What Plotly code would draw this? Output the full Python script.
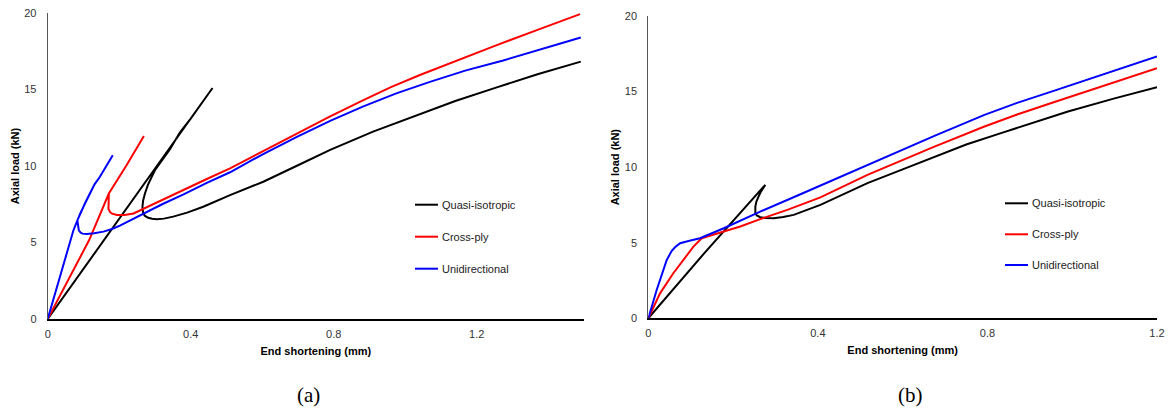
import plotly.graph_objects as go

W, H = 1170, 409

# ---- (a) load vs end shortening ----
a_qi_x = [0, 0.202, 0.461, 0.40, 0.37, 0.342, 0.314, 0.300, 0.291, 0.280, 0.272, 0.267, 0.265,
          0.265, 0.267, 0.272, 0.281, 0.292, 0.305, 0.325, 0.351, 0.390, 0.435,
          0.510, 0.603, 0.700, 0.790, 0.910, 1.032, 1.140, 1.256, 1.370, 1.491]
a_qi_y = [0, 6.6, 15.1, 13.1, 12.2, 11.1, 10.18, 9.72, 9.3, 8.75, 8.2, 7.75, 7.34,
          7.1, 6.9, 6.74, 6.62, 6.55, 6.52, 6.56, 6.69, 6.95, 7.34,
          8.1, 8.97, 10.05, 11.05, 12.25, 13.33, 14.25, 15.14, 16.0, 16.82]

a_cp_x = [0, 0.116, 0.171, 0.221, 0.269, 0.221, 0.171, 0.1695, 0.170, 0.174, 0.179, 0.193,
          0.215, 0.240, 0.267, 0.32, 0.38, 0.445,
          0.510, 0.600, 0.697, 0.790, 0.883, 0.960, 1.041, 1.150, 1.256, 1.370, 1.489]
a_cp_y = [0, 5.16, 8.2, 10.07, 11.96, 10.07, 8.2, 7.6, 7.2, 7.0, 6.9, 6.8,
          6.8, 6.9, 7.2, 7.8, 8.45, 9.15,
          9.85, 10.95, 12.14, 13.25, 14.31, 15.15, 15.95, 16.95, 17.9, 18.9, 19.93]

a_ud_x = [0, 0.034, 0.072, 0.083, 0.092, 0.105, 0.118, 0.131, 0.146, 0.163, 0.182, 0.163,
          0.146, 0.131, 0.118, 0.105, 0.092, 0.083, 0.0845, 0.087, 0.092, 0.097, 0.109,
          0.130, 0.156, 0.180, 0.202, 0.235, 0.267, 0.32, 0.38, 0.445, 0.510, 0.600,
          0.697, 0.790, 0.883, 0.975, 1.069, 1.170, 1.274, 1.380, 1.491]
a_ud_y = [0, 2.77, 5.8, 6.45, 6.95, 7.6, 8.2, 8.8, 9.3, 10.0, 10.7, 10.0,
          9.3, 8.8, 8.2, 7.6, 6.95, 6.45, 6.1, 5.8, 5.65, 5.58, 5.56,
          5.6, 5.71, 5.88, 6.1, 6.5, 6.9, 7.5, 8.15, 8.9, 9.59, 10.75,
          11.9, 12.95, 13.9, 14.75, 15.5, 16.25, 16.9, 17.65, 18.4]

# ---- (b) load vs end shortening ----
b_qi_x = [0, 0.138, 0.276, 0.266, 0.260, 0.255, 0.2525, 0.2525, 0.256, 0.264, 0.278, 0.296,
          0.318, 0.343, 0.406, 0.460, 0.517, 0.600, 0.675, 0.750, 0.832, 0.910, 0.990,
          1.100, 1.2]
b_qi_y = [0, 4.5, 8.83, 8.4, 8.05, 7.72, 7.39, 6.95, 6.8, 6.69, 6.63, 6.62,
          6.7, 6.84, 7.5, 8.2, 8.94, 9.85, 10.7, 11.5, 12.25, 12.98, 13.68,
          14.55, 15.28]

b_cp_x = [0, 0.0277, 0.059, 0.083, 0.1065, 0.126, 0.150, 0.178, 0.217, 0.264, 0.328, 0.406,
          0.517, 0.600, 0.675, 0.793, 0.870, 0.951, 1.080, 1.2]
b_cp_y = [0, 1.65, 2.98, 3.86, 4.74, 5.3, 5.52, 5.74, 6.07, 6.56, 7.17, 8.0,
          9.49, 10.5, 11.36, 12.69, 13.48, 14.24, 15.45, 16.55]

b_ud_x = [0, 0.0198, 0.0435, 0.055, 0.063, 0.070, 0.075, 0.095, 0.122, 0.178, 0.264, 0.359,
          0.440, 0.517, 0.600, 0.675, 0.793, 0.870, 0.951, 1.080, 1.2]
b_ud_y = [0, 1.87, 3.86, 4.45, 4.7, 4.88, 4.97, 5.12, 5.3, 5.96, 7.06, 8.21,
          9.2, 10.15, 11.15, 12.07, 13.46, 14.25, 15.0, 16.2, 17.33]

series_names = ["Quasi-isotropic", "Cross-ply", "Unidirectional"]
series_colors = ["#000000", "#ff0000", "#0000ff"]

a_x_ticks = [0, 0.4, 0.8, 1.2]
b_x_ticks = [0, 0.4, 0.8, 1.2]
y_ticks = [0, 5, 10, 15, 20]
captions = ["(a)", "(b)"]

fig = go.Figure()

panel_a = [(a_qi_x, a_qi_y), (a_cp_x, a_cp_y), (a_ud_x, a_ud_y)]
panel_b = [(b_qi_x, b_qi_y), (b_cp_x, b_cp_y), (b_ud_x, b_ud_y)]

for (xs, ys), name, col in zip(panel_a, series_names, series_colors):
    fig.add_trace(go.Scatter(x=xs, y=ys, mode="lines", name=name, showlegend=False,
                             line=dict(color=col, width=2),
                             xaxis="x", yaxis="y"))
for (xs, ys), name, col in zip(panel_b, series_names, series_colors):
    fig.add_trace(go.Scatter(x=xs, y=ys, mode="lines", name=name, showlegend=False,
                             line=dict(color=col, width=2),
                             xaxis="x2", yaxis="y2"))


def px(x):
    return x / W


def py(y):
    return 1 - y / H


tick_font = dict(family="Liberation Sans, Arial, sans-serif", size=11, color="#333333")
title_font = dict(family="Liberation Sans, Arial, sans-serif", size=11, color="#000000")


def xaxis_cfg(dom, rng, ticks):
    return dict(domain=dom, range=rng, tickvals=ticks, ticktext=[f"{t:g}" for t in ticks],
                showgrid=False, zeroline=False, showline=True, linecolor="#000000",
                linewidth=1.5, ticks="", tickfont=tick_font, ticklabelstandoff=4,
                automargin=False,
                title=dict(text="<b>End shortening (mm)</b>", font=title_font, standoff=8),
                fixedrange=True)


def yaxis_cfg(dom, anchor):
    return dict(domain=dom, range=[0, 20], tickvals=y_ticks,
                showgrid=False, zeroline=False, showline=True, linecolor="#555555",
                linewidth=1, ticks="", tickfont=tick_font, ticklabelstandoff=8,
                anchor=anchor, automargin=False,
                title=dict(text="<b>Axial load (kN)</b>", font=title_font, standoff=2),
                fixedrange=True)


fig.update_layout(
    width=W, height=H, margin=dict(l=0, r=0, t=0, b=0),
    paper_bgcolor="white", plot_bgcolor="white",
    xaxis=dict(anchor="y", **xaxis_cfg([px(47.7), px(584)], [0, 1.5], a_x_ticks)),
    yaxis=yaxis_cfg([py(319), py(13)], "x"),
    xaxis2=dict(anchor="y2", **xaxis_cfg([px(648.3), px(1157)], [0, 1.2], b_x_ticks)),
    yaxis2=yaxis_cfg([py(318.3), py(16)], "x2"),
)

# hand-placed legends inside each panel
legend_specs = [
    (415, 438, 440, [204.7, 236.7, 268.7]),
    (1005, 1028, 1030, [203.3, 234.3, 265.0]),
]
for x0, x1, xt, rows in legend_specs:
    for name, col, yr in zip(series_names, series_colors, rows):
        fig.add_shape(type="line", xref="paper", yref="paper",
                      x0=px(x0), x1=px(x1), y0=py(yr), y1=py(yr),
                      line=dict(color=col, width=2))
        fig.add_annotation(text=name, xref="paper", yref="paper", x=px(xt), y=py(yr),
                           xanchor="left", yanchor="middle", showarrow=False,
                           font=dict(family="Liberation Sans, Arial, sans-serif", size=11,
                                     color="#222222"))

for cap, cx in zip(captions, [308, 910]):
    fig.add_annotation(text=cap, xref="paper", yref="paper", x=px(cx), y=py(395),
                       xanchor="center", yanchor="middle", showarrow=False,
                       font=dict(family="Liberation Serif, DejaVu Serif, serif", size=21,
                                 color="#000000"))

fig.write_html("out.html")
